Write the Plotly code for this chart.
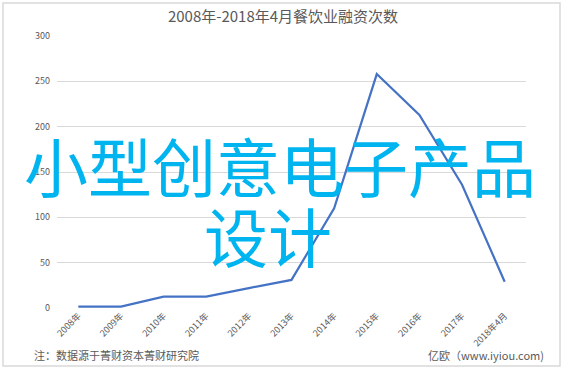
import plotly.graph_objects as go

categories = ["2008年", "2009年", "2010年", "2011年", "2012年", "2013年",
              "2014年", "2015年", "2016年", "2017年", "2018年4月"]
values = [1.5, 1.5, 12.5, 12.5, 22, 31, 110, 258, 213, 136, 29]
y_ticks = [0, 50, 100, 150, 200, 250, 300]

title_text = "2008年-2018年4月餐饮业融资次数"
note_text = "注：数据源于菁财资本菁财研究院"
source_text = "亿欧（www.iyiou.com)"
overlay_line1 = "小型创意电子产品"
overlay_line2 = "设计"

FONT = "Noto Sans CJK SC"
W, H = 563, 370

fig = go.Figure()
fig.add_trace(go.Scatter(
    x=categories, y=values, mode="lines",
    line=dict(color="#4472C4", width=2.2),
    hoverinfo="skip", showlegend=False,
))

def px_x(x):
    return x / W

def px_y(y):
    return 1 - y / H

fig.update_layout(
    width=W, height=H,
    margin=dict(l=57, r=37, t=36, b=62),
    paper_bgcolor="white", plot_bgcolor="white",
    font=dict(family=FONT, color="#595959"),
    title=dict(text=title_text, x=px_x(283), y=px_y(17), xref="container", yref="container",
               xanchor="center", yanchor="middle",
               font=dict(size=15, color="#595959", family=FONT)),
    xaxis=dict(
        type="category", range=[-0.5, 10.5],
        tickangle=-45, tickfont=dict(size=9, color="#595959"),
        showgrid=False, showline=False, zeroline=False,
        ticks="", ticklen=0,
    ),
    yaxis=dict(
        range=[0, 300], tickvals=y_ticks,
        tickfont=dict(size=9, color="#595959"),
        showgrid=True, gridcolor="#D9D9D9", gridwidth=1,
        zeroline=False, showline=False, ticks="",
        ticklabelstandoff=6,
    ),
)

ph = 272.0
pw = 469.0
anns = [
    dict(text=note_text, xref="paper", yref="paper", x=(32 - 57) / pw, y=-(355 - 308) / ph,
         showarrow=False, font=dict(size=11, color="#595959", family=FONT),
         xanchor="left", yanchor="middle"),
    dict(text=source_text, xref="paper", yref="paper", x=(546 - 57) / pw, y=-(355 - 308) / ph,
         showarrow=False, font=dict(size=11, color="#595959", family=FONT),
         xanchor="right", yanchor="middle"),
    dict(text=overlay_line1, xref="paper", yref="paper", x=(280 - 57) / pw, y=(308 - 164) / ph,
         showarrow=False, font=dict(size=64, color="#00B4F0", family=FONT),
         xanchor="center", yanchor="middle"),
    dict(text=overlay_line2, xref="paper", yref="paper", x=(268 - 57) / pw, y=(308 - 234) / ph,
         showarrow=False, font=dict(size=64, color="#00B4F0", family=FONT),
         xanchor="center", yanchor="middle"),
]
fig.update_layout(annotations=anns)

fig.add_shape(type="rect", xref="paper", yref="paper",
              x0=(3 - 57) / pw, x1=(560 - 57) / pw,
              y0=-(366 - 308) / ph, y1=1 + (36 - 3) / ph,
              line=dict(color="#D9D9D9", width=1.5), layer="below")

fig.write_html("out.html")
